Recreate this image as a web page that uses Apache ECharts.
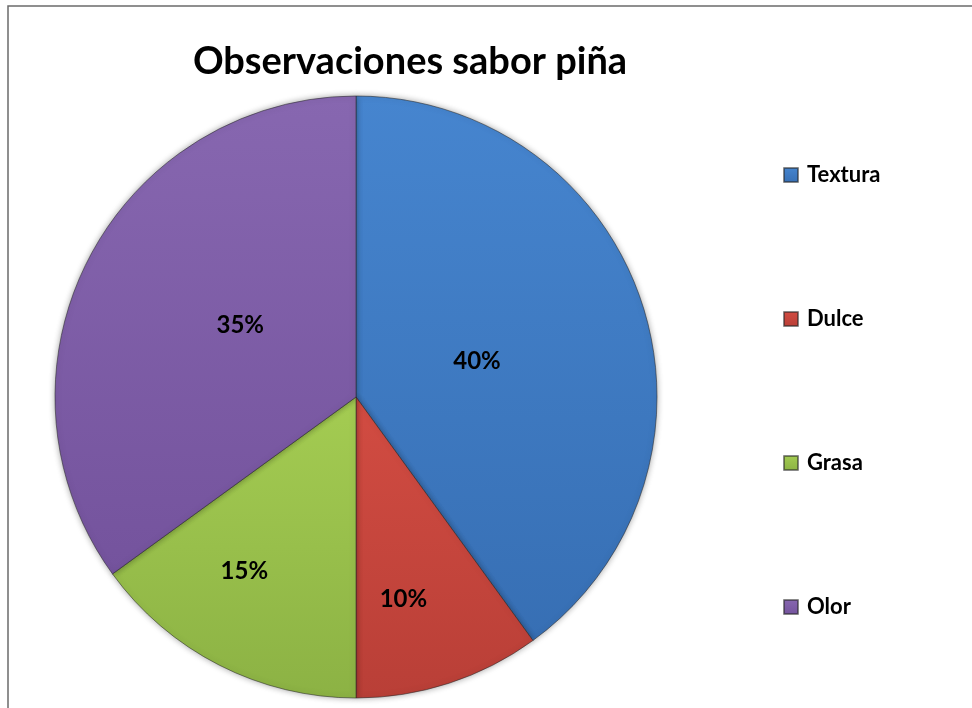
<!DOCTYPE html>
<html>
<head>
<meta charset="utf-8">
<script src="https://cdn.jsdelivr.net/npm/echarts@6/dist/echarts.min.js"></script>
<style>
  html, body { margin: 0; padding: 0; background: #ffffff; }
  #chart { width: 972px; height: 708px; }
</style>
</head>
<body>
<div id="chart"></div>
<script>
// Observations on pineapple flavour
const categories = ['Textura', 'Dulce', 'Grasa', 'Olor'];
const percentages = [40, 10, 15, 35];

// Slice colours (top / bottom shade of each gradient)
const colorsTop = ['#4685cf', '#d24c42', '#a4cc52', '#8767b0'];
const colorsBottom = ['#376fb4', '#b93f37', '#8cb244', '#74539d'];

// Nudge each percentage label inside its slice
const labelOffsets = [[-25, 12], [0, 56], [-42, 37], [21, -2]];

const chart = echarts.init(document.getElementById('chart'), null, { renderer: 'canvas' });

const seriesData = categories.map((name, i) => ({
  name: name,
  value: percentages[i],
  itemStyle: {
    color: new echarts.graphic.LinearGradient(0, 0, 0, 1, [
      { offset: 0, color: colorsTop[i] },
      { offset: 1, color: colorsBottom[i] }
    ])
  },
  label: { offset: labelOffsets[i] }
}));

chart.setOption({
  backgroundColor: '#ffffff',
  animation: false,
  title: {
    text: 'Observaciones sabor piña',
    left: 405,
    textAlign: 'center',
    top: 38,
    textStyle: {
      fontFamily: 'Lato',
      fontWeight: 'bold',
      fontSize: 38,
      color: '#000000'
    }
  },
  legend: {
    orient: 'vertical',
    left: 778,
    top: 159,
    itemWidth: 14,
    itemHeight: 14,
    itemGap: 122,
    icon: 'rect',
    data: categories,
    textStyle: {
      fontFamily: 'Lato',
      fontWeight: 'bold',
      fontSize: 22,
      lineHeight: 22,
      color: '#000000',
      padding: [0, 0, 0, 4]
    }
  },
  graphic: [{
    type: 'rect',
    shape: { x: 8, y: 6, width: 1200, height: 1200 },
    style: { fill: 'none', stroke: '#6b6b6b', lineWidth: 1.5 },
    silent: true,
    z: -1
  }],
  series: [{
    type: 'pie',
    center: [356, 397],
    radius: 301,
    startAngle: 90,
    clockwise: true,
    avoidLabelOverlap: false,
    data: seriesData,
    itemStyle: {
      borderColor: 'rgba(40,40,40,0.55)',
      borderWidth: 1,
      shadowBlur: 6,
      shadowColor: 'rgba(0,0,0,0.35)'
    },
    label: {
      show: true,
      position: 'inside',
      formatter: '{c}%',
      fontFamily: 'Lato',
      fontWeight: 'bold',
      fontSize: 24,
      color: '#000000'
    },
    labelLine: { show: false },
    emphasis: { disabled: true }
  }]
});
</script>
</body>
</html>
